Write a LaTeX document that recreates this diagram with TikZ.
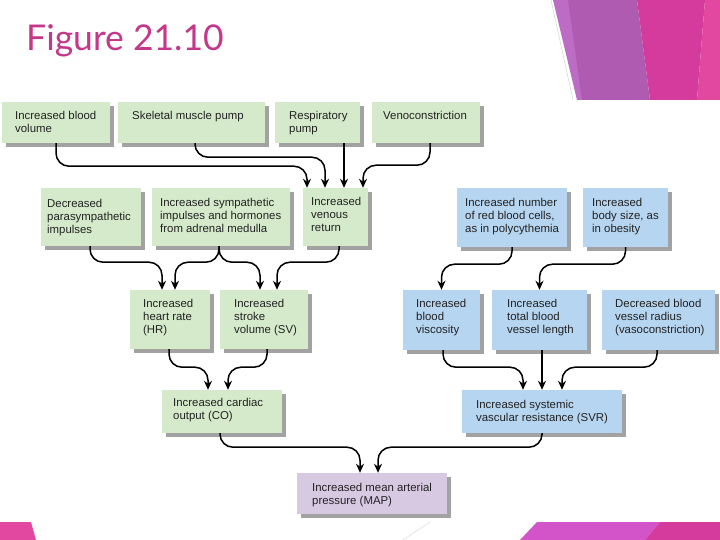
\documentclass[tikz,border=0pt]{standalone}
\usepackage{fontspec}
\setmainfont{Liberation Sans}
\newfontfamily\titlefont{Lato}
\usetikzlibrary{arrows.meta,shadows}
\definecolor{gfill}{HTML}{D5EACB}
\definecolor{bfill}{HTML}{B6D5F0}
\definecolor{pfill}{HTML}{D8C9E3}
\definecolor{shadowgray}{HTML}{A2A2A2}
\definecolor{txtcol}{HTML}{222222}
\definecolor{titlecol}{HTML}{C4378A}
\definecolor{lavender}{HTML}{BC6CC4}
\definecolor{purpledec}{HTML}{AF5BB1}
\definecolor{pinkdec}{HTML}{D53B9C}
\definecolor{pinklight}{HTML}{E2489F}
\definecolor{violetdec}{HTML}{D254C8}
\begin{document}
\begin{tikzpicture}[x=1pt,y=-1pt,
  box/.style={draw=none, inner sep=0pt, general shadow={shadow xshift=4pt, shadow yshift=-4pt, fill=shadowgray}},
  gbox/.style={box, fill=gfill},
  bbox/.style={box, fill=bfill},
  pbox/.style={box, fill=pfill},
  txt/.style={anchor=north west, inner sep=0pt, align=left, font=\fontsize{11.4}{13}\selectfont, text=txtcol},
  arr/.style={-{Stealth[length=9pt,width=8pt]}, line width=1.5pt, rounded corners=13pt},
]
\useasboundingbox (0,0) rectangle (720,540);
\fill[white] (0,0) rectangle (720,540);

% decorations top right
\fill[lavender] (553,0) -- (570,0) -- (584,100) -- (577,100) -- cycle;
\fill[purpledec] (568,0) -- (637,0) -- (650,100) -- (582,100) -- cycle;
\fill[pinkdec] (637,0) -- (705,0) -- (697,100) -- (650,100) -- cycle;
\fill[pinklight] (705,0) -- (720,0) -- (720,100) -- (697,100) -- cycle;
\draw[gray!40, line width=0.4pt] (551,0) -- (573,100);
% decorations bottom
\fill[pinklight] (0,522) -- (31,522) -- (36,540) -- (0,540) -- cycle;
\fill[violetdec] (520,540) -- (537,522) -- (660,522) -- (645,540) -- cycle;
\fill[pinkdec] (645,540) -- (660,522) -- (720,522) -- (720,540) -- cycle;
\draw[gray!35, line width=0.4pt] (403,540) -- (430,522);

% title
\node[anchor=base west, inner sep=0pt, font=\titlefont\fontsize{35.5}{40}\selectfont, text=titlecol] (title) at (26,51) {Figure 21.10};

% row 1
\node[gbox, minimum width=108pt, minimum height=41pt] (bv) at (56,122.5) {};
\node[gbox, minimum width=147pt, minimum height=41pt] (sk) at (191.5,122.5) {};
\node[gbox, minimum width=85pt, minimum height=41pt] (rp) at (317.5,122.5) {};
\node[gbox, minimum width=108pt, minimum height=41pt] (vc) at (426,122.5) {};
\node[txt] (bvt) at (15,111) {Increased blood\\volume};
\node[txt] (skt) at (132,111) {Skeletal muscle pump};
\node[txt] (rpt) at (289,111) {Respiratory\\pump};
\node[txt] (vct) at (383,111) {Venoconstriction};

% row 2
\node[gbox, minimum width=100pt, minimum height=58pt] (dp) at (90.5,217) {};
\node[gbox, minimum width=138pt, minimum height=58pt] (sy) at (221,217) {};
\node[gbox, minimum width=65pt, minimum height=58pt] (vr) at (335.5,217) {};
\node[bbox, minimum width=110pt, minimum height=59pt] (po) at (512,217.5) {};
\node[bbox, minimum width=85pt, minimum height=59pt] (ob) at (625.5,217.5) {};
\node[txt] (dpt) at (47,199) {Decreased\\parasympathetic\\impulses};
\node[txt] (syt) at (160,198) {Increased sympathetic\\impulses and hormones\\from adrenal medulla};
\node[txt] (vrt) at (311,197) {Increased\\venous\\return};
\node[txt] (pot) at (465,198) {Increased number\\of red blood cells,\\as in polycythemia};
\node[txt] (obt) at (592,198) {Increased\\body size, as\\in obesity};

% row 3
\node[gbox, minimum width=80pt, minimum height=59pt] (hr) at (170,319.5) {};
\node[gbox, minimum width=88pt, minimum height=59pt] (sv) at (264,319.5) {};
\node[bbox, minimum width=77pt, minimum height=60pt] (vis) at (441.5,320) {};
\node[bbox, minimum width=95pt, minimum height=60pt] (len) at (539.5,320) {};
\node[bbox, minimum width=113pt, minimum height=60pt] (rad) at (658.5,320) {};
\node[txt] (hrt) at (143,299) {Increased\\heart rate\\(HR)};
\node[txt] (svt) at (234,299) {Increased\\stroke\\volume (SV)};
\node[txt] (vist) at (416,299) {Increased\\blood\\viscosity};
\node[txt] (lent) at (507,299) {Increased\\total blood\\vessel length};
\node[txt] (radt) at (615,299) {Decreased blood\\vessel radius\\(vasoconstriction)};

% row 4
\node[gbox, minimum width=120pt, minimum height=43pt] (co) at (222,411.5) {};
\node[bbox, minimum width=160pt, minimum height=43pt] (svr) at (542,411.5) {};
\node[txt] (cot) at (173,398) {Increased cardiac\\output (CO)};
\node[txt] (svrt) at (476,400) {Increased systemic\\vascular resistance (SVR)};

% row 5
\node[pbox, minimum width=150pt, minimum height=41pt] (map) at (372,493.5) {};
\node[txt] (mapt) at (312,483) {Increased mean arterial\\pressure (MAP)};

% connectors
\draw[arr] (bv.south) -- ++(0,23) -| ([xshift=-28.5pt]vr.north);
\draw[arr] ([xshift=3.5pt]sk.south) -- ++(0,14) -| ([xshift=-10.5pt]vr.north);
\draw[arr] ([xshift=26.5pt]rp.south) -- ([xshift=8.5pt]vr.north);
\draw[arr] ([xshift=4pt]vc.south) -- ++(0,22) -| ([xshift=27.5pt]vr.north);

\draw[arr] ([xshift=-0.5pt]dp.south) -- ++(0,16) -| ([xshift=-8pt]hr.north);
\draw[arr] ([xshift=-2pt]sy.south) -- ++(0,16) -| ([xshift=5pt]hr.north);
\draw[arr] ([xshift=-2pt]sy.south) -- ++(0,16) -| ([xshift=-4pt]sv.north);
\draw[arr] ([xshift=3.5pt]vr.south) -- ++(0,16) -| ([xshift=13pt]sv.north);
\draw[arr] (po.south) -- ++(0,17) -| (vis.north);
\draw[arr] (ob.south) -- ++(0,17) -| (len.north);

\draw[arr] ([xshift=-1pt]hr.south) -- ++(0,18) -| ([xshift=-14pt]co.north);
\draw[arr] ([xshift=3pt]sv.south) -- ++(0,18) -| ([xshift=6pt]co.north);
\draw[arr] ([xshift=1.5pt]vis.south) -- ++(0,17) -| ([xshift=-19pt]svr.north);
\draw[arr] ([xshift=2.5pt]len.south) -- (svr.north);
\draw[arr] ([xshift=-1.5pt]rad.south) -- ++(0,17) -| ([xshift=20pt]svr.north);

\draw[arr] ([xshift=-2pt]co.south) -- ++(0,14) -| ([xshift=-12pt]map.north);
\draw[arr] (svr.south) -- ++(0,14) -| ([xshift=6pt]map.north);
\end{tikzpicture}
\end{document}
